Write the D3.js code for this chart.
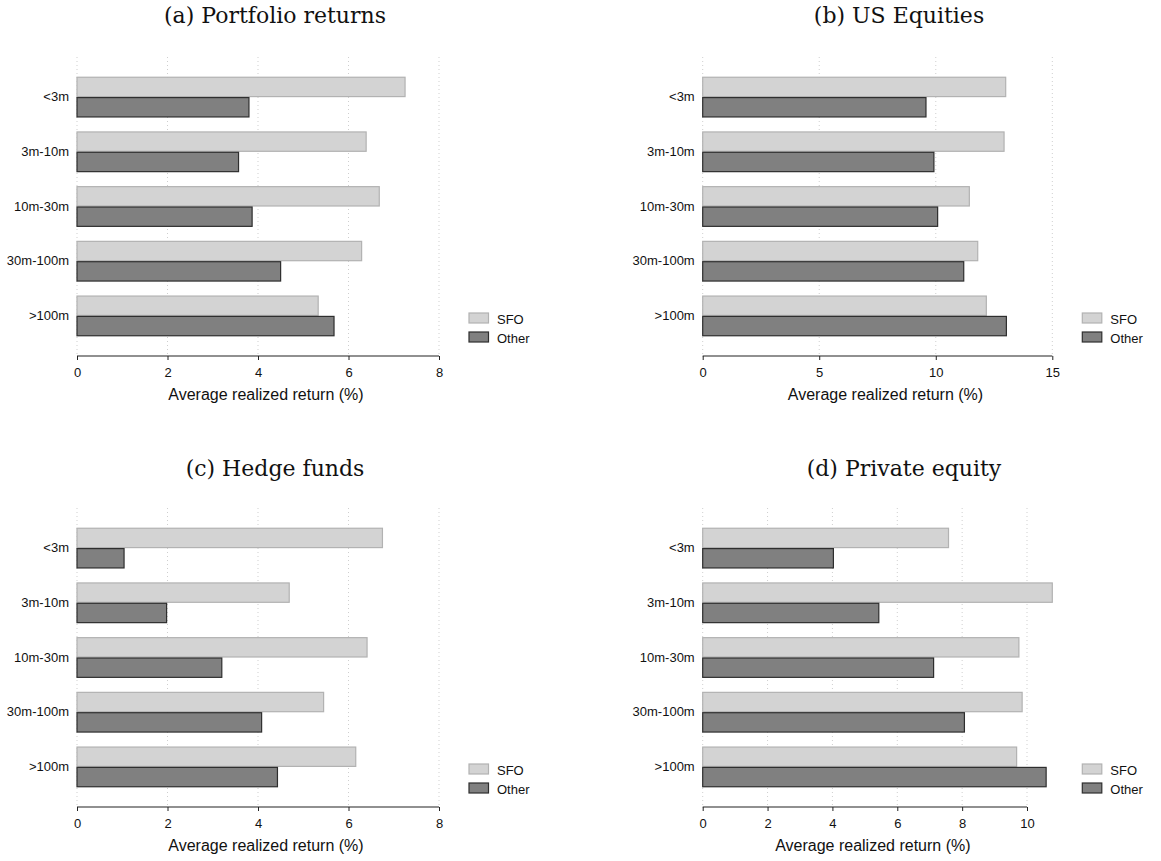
<!DOCTYPE html>
<html>
<head>
<meta charset="utf-8">
<script src="https://cdn.jsdelivr.net/npm/d3@7"></script>
<style>
    body { margin: 0; background: #fff; }
    text { font-family: "Liberation Sans", Arial, sans-serif; fill: #111; }
    .title { font-family: "DejaVu Serif", serif; font-size: 22px; }
</style>
</head>
<body>
<svg id="viewBox" width="1161" height="861"></svg>
<script>
'use strict'

const categories = ['<3m', '3m-10m', '10m-30m', '30m-100m', '>100m']
const series = ['SFO', 'Other']
const titles = ['(a) Portfolio returns', '(b) US Equities', '(c) Hedge funds', '(d) Private equity']
const axisTitle = 'Average realized return (%)'

const portfolioSFO = [7.25, 6.39, 6.68, 6.29, 5.33]
const portfolioOther = [3.80, 3.57, 3.87, 4.50, 5.68]
const equitiesSFO = [13.00, 12.93, 11.44, 11.80, 12.17]
const equitiesOther = [9.58, 9.92, 10.08, 11.20, 13.03]
const hedgeSFO = [6.75, 4.69, 6.41, 5.45, 6.16]
const hedgeOther = [1.04, 1.98, 3.20, 4.08, 4.43]
const privateSFO = [7.58, 10.78, 9.75, 9.85, 9.68]
const privateOther = [4.03, 5.43, 7.12, 8.07, 10.59]

const portfolioTicks = [0, 2, 4, 6, 8]
const equitiesTicks = [0, 5, 10, 15]
const hedgeTicks = [0, 2, 4, 6, 8]
const privateTicks = [0, 2, 4, 6, 8, 10]

const fills = ['#d3d3d3', '#808080']
const strokes = ['#b2b2b2', '#2e2e2e']

const panels = [
    { title: titles[0], values: [portfolioSFO, portfolioOther], ticks: portfolioTicks, x0: 77, x1: 439, y0: 57, y1: 356, tx: 275, ty: 23 },
    { title: titles[1], values: [equitiesSFO, equitiesOther], ticks: equitiesTicks, x0: 702.7, x1: 1052.3, y0: 57, y1: 356, tx: 899, ty: 23 },
    { title: titles[2], values: [hedgeSFO, hedgeOther], ticks: hedgeTicks, x0: 77, x1: 439, y0: 508, y1: 807, tx: 275, ty: 476 },
    { title: titles[3], values: [privateSFO, privateOther], ticks: privateTicks, x0: 702.7, x1: 1052.3, y0: 508, y1: 807, tx: 904, ty: 476 }
]

const drawPanel = (svg, p) => {
    const g = svg.append('g')
    const xMax = Math.max(d3.max(p.ticks), d3.max(p.values[0]), d3.max(p.values[1]))
    const x = d3.scaleLinear().domain([0, xMax]).range([p.x0, p.x1])
    const y = d3.scaleBand()
        .domain(categories)
        .range([p.y0, p.y1])
        .paddingInner(0.256)
        .paddingOuter(0.361)
    const sub = d3.scaleBand().domain(series).range([0, y.bandwidth()])

    // dotted grid lines
    g.append('g')
        .selectAll('line')
        .data(p.ticks)
        .join('line')
        .attr('x1', d => x(d))
        .attr('x2', d => x(d))
        .attr('y1', p.y0)
        .attr('y2', p.y1)
        .attr('stroke', '#cfcfcf')
        .attr('stroke-width', 1)
        .attr('stroke-dasharray', '1 3')

    const rows = categories.map((c, i) => series.map((s, j) => ({ cat: c, s: s, j: j, v: p.values[j][i] })))
    g.append('g')
        .selectAll('rect')
        .data(rows.flat())
        .join('rect')
        .attr('x', x(0))
        .attr('y', d => y(d.cat) + sub(d.s) + 0.5)
        .attr('width', d => x(d.v) - x(0))
        .attr('height', sub.bandwidth() - 1)
        .attr('fill', d => fills[d.j])
        .attr('stroke', d => strokes[d.j])
        .attr('stroke-width', 1.2)

    // x axis
    const xAxis = g.append('g')
        .attr('transform', `translate(0,${p.y1})`)
        .call(d3.axisBottom(x).tickValues(p.ticks).tickSize(4).tickPadding(8))
    xAxis.select('.domain').remove()
    xAxis.selectAll('.tick line').attr('stroke', '#222')
    xAxis.selectAll('text').attr('font-size', 13).attr('font-family', null).attr('fill', '#111')
    xAxis.append('line')
        .attr('x1', x(0))
        .attr('x2', x(d3.max(p.ticks)))
        .attr('stroke', '#222')
        .attr('stroke-width', 1.2)

    const yAxis = g.append('g')
        .attr('transform', `translate(${p.x0},0)`)
        .call(d3.axisLeft(y).tickSize(0).tickPadding(8))
    yAxis.select('.domain').remove()
    yAxis.selectAll('text').attr('font-size', 13).attr('font-family', null).attr('fill', '#111')

    g.append('text')
        .attr('x', (x(0) + x(d3.max(p.ticks))) / 2 + 8)
        .attr('y', p.y1 + 44)
        .attr('text-anchor', 'middle')
        .attr('font-size', 16)
        .text(axisTitle)

    g.append('text')
        .attr('class', 'title')
        .attr('x', p.tx)
        .attr('y', p.ty)
        .attr('text-anchor', 'middle')
        .text(p.title)

    // legend
    const legend = g.append('g')
        .attr('transform', `translate(${p.x1 + 30},${p.y1 - 43})`)
    const item = legend.selectAll('g')
        .data(series)
        .join('g')
        .attr('transform', (d, i) => `translate(0,${i * 19})`)
    item.append('rect')
        .attr('width', 19.5)
        .attr('height', 10)
        .attr('fill', (d, i) => fills[i])
        .attr('stroke', (d, i) => strokes[i])
        .attr('stroke-width', 1.2)
    item.append('text')
        .attr('x', 28)
        .attr('y', 10.5)
        .attr('font-size', 13)
        .text(d => d)
}

const svg = d3.select('#viewBox')
panels.forEach(p => drawPanel(svg, p))
</script>
</body>
</html>
